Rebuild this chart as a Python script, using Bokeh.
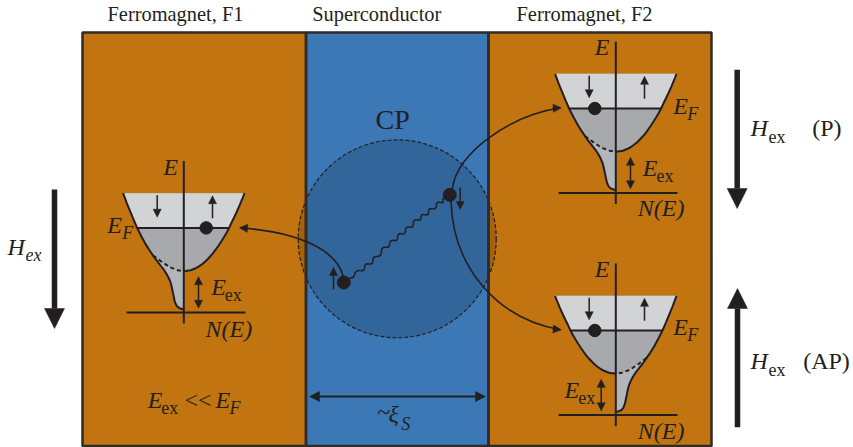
import numpy as np
from bokeh.core.properties import value
from bokeh.embed import file_html
from bokeh.models import Arrow, NormalHead, Range1d
from bokeh.plotting import figure
from bokeh.resources import INLINE

# panels of the device
panel_left = [82, 305.5, 488]
panel_right = [305.5, 488, 711]
panel_color = ["#c1740f", "#3b78b5", "#c1740f"]

# density of states, offset from the E axis and depth below band top
open_n = [60.7, 59.2, 57.5, 55.9, 54.1, 52.3, 50.4, 47.7, 45.3, 42.8, 40.1, 37.6, 35, 32.2, 29.2, 26.6, 23.8, 21.1, 18.2, 15.2, 11.9, 6.9, 0]
open_e = [0, 4, 8, 12, 16, 20, 24, 29.5, 34.7, 39.5, 44, 48, 52, 56, 60, 63, 66, 68.7, 71, 73.2, 75, 77, 78]
tail_n = [-60.7, -57, -53.3, -50, -46.7, -42.5, -38.3, -34.5, -30.7, -27, -23.3, -20, -17.3, -15, -13.3, -12, -11, -10, -9.3, -8.4, -7.3, -5.8, -4, -2, 0]
tail_e = [0, 10, 19, 27, 34.7, 43, 50.7, 56.8, 62.3, 67.5, 72.3, 76.5, 80.7, 85, 89, 94, 99, 103.5, 107.3, 110, 112.3, 114, 115, 115.8, 116]
dash_n = [-30.7, -23, -14, -6, 0]
dash_e = [62.3, 68, 74, 77, 78]
fermi_e = 34.7
base_e = 119.3

# F1, F2 (P), F2 (AP): axis position, band top, tail side, side of the dot
band_x = [183.3, 615.3, 615.3]
band_y = [192.7, 73.3, 295.3]
band_flip = [1, 1, -1]
dot_n = [22.4, -21, -21]
spin_n = [-26.6, 28.7]
eex_n = [14.7, 14.7, -14.6]

# Cooper pair
cp_x = 396.7
cp_y = 238.3
cp_r = 99
pair_x = [343.3, 449.3]
pair_y = [282, 194.3]
wave_x = [348.3, 360, 368.3, 376.7, 385, 393.3, 401, 409, 416.7, 424.3, 431.7, 440, 445]
wave_y = [277.7, 270, 263.5, 256, 246.7, 240, 233.3, 226.7, 219.3, 214.3, 208.3, 201.7, 198.3]

# tunnelling paths
arc_x0 = [343, 452, 450.5]
arc_y0 = [277, 188, 200]
arc_cx0 = [337, 456, 452]
arc_cy0 = [250, 152, 265]
arc_cx1 = [300, 510, 495]
arc_cy1 = [232, 115, 318]
arc_x1 = [240, 560, 560]
arc_y1 = [227.3, 107.3, 329.3]

# H_ex arrows: x, tail, tip
field_x = [54, 736.7, 737]
field_tail = [189, 69.3, 426.7]
field_tip = [328, 208, 288]

roman_text = ["Ferromagnet, F1", "Superconductor", "Ferromagnet, F2"]
roman_x = [107, 311.7, 516]
roman_y = [21, 21, 21]
misc_text = ["CP", "(P)", "(AP)", "<<", "~"]
misc_x = [375, 811.7, 802.7, 184, 376.7]
misc_y = [129.3, 137, 370, 409, 421.7]
misc_size = ["28px", "24px", "24px", "24px", "24px"]
ital_text = ["E", "E", "E", "N(E)", "E", "E", "E", "N(E)", "E", "E", "E", "N(E)", "H", "H", "H", "E", "E", "\u03be"]
ital_x = [162.7, 106.7, 210.7, 205, 594.3, 672.7, 642.3, 637.3, 594.3, 672.7, 564, 637.3, 7, 750, 750, 147.3, 215, 388]
ital_y = [176, 234.3, 296.7, 338, 56, 115, 177.3, 217.3, 278.3, 336, 399, 440, 256, 137, 370, 409.3, 409.3, 423]
sub_text = ["F", "F", "F", "ex", "F", "S"]
sub_x = [121.7, 686.7, 686.7, 25, 229, 400.7]
sub_y = [239.3, 120, 341, 261.7, 414, 430]
exsub_x = [224.3, 656, 577.7, 768, 768, 160.7]
exsub_y = [301.7, 182, 404, 143, 376, 414]

ink = "#231f20"
font = value("Liberation Serif")

p = figure(width=853, height=447, x_range=Range1d(0, 853), y_range=Range1d(447, 0),
           x_axis_type=None, y_axis_type=None, toolbar_location=None, output_backend="svg",
           min_border=0, outline_line_color=None)
p.xgrid.visible = False
p.ygrid.visible = False

p.quad(left=panel_left, right=panel_right, top=[32] * 3, bottom=[445.5] * 3,
       fill_color=panel_color, line_color=None)
p.circle([cp_x], [cp_y], radius=cp_r, fill_color="black", fill_alpha=0.15,
         line_color=ink, line_width=1.2, line_dash="4 2")
p.quad(left=panel_left, right=panel_right, top=[32] * 3, bottom=[445.5] * 3,
       fill_color=None, line_color="#2e2b2a", line_width=2.5)


def arrow(x0, y0, x1, y1, size, width, both=False):
    head = NormalHead(size=size, fill_color=ink, line_color=ink, line_width=0.5)
    tail = NormalHead(size=size, fill_color=ink, line_color=ink, line_width=0.5) if both else None
    p.add_layout(Arrow(end=head, start=tail, x_start=x0, y_start=y0, x_end=x1, y_end=y1,
                       line_color=ink, line_width=width))


# the three bands
fi = open_e.index(fermi_e)
ti = tail_e.index(fermi_e)
di = tail_e.index(dash_e[0])
for ax, top, flip, dn, en in zip(band_x, band_y, band_flip, dot_n, eex_n):
    ox = ax + flip * np.array(open_n)
    oy = top + np.array(open_e)
    tx = ax + flip * np.array(tail_n)
    ty = top + np.array(tail_e)
    dx = ax + flip * np.array(dash_n)
    dy = top + np.array(dash_e)
    p.patch(np.r_[tx, ox[::-1]], np.r_[ty, oy[::-1]], fill_color="#a7a9ac", line_color=None)
    p.patch(np.r_[tx[di:], dx[::-1]], np.r_[ty[di:], dy[::-1]], fill_color="#b2b5ba", line_color=None)
    p.patch(np.r_[tx[:ti + 1], ox[fi::-1]], np.r_[ty[:ti + 1], oy[fi::-1]], fill_color="#d1d3d4", line_color=None)
    p.line(ox, oy, line_color=ink, line_width=2)
    p.line(tx, ty, line_color=ink, line_width=2)
    p.line(dx, dy, line_color=ink, line_width=2, line_dash="4 3")
    p.line([tx[ti], ox[fi]], [top + fermi_e] * 2, line_color=ink, line_width=2)
    p.line([ax, ax], [top - 32.3, top + 130.3], line_color=ink, line_width=2)
    p.line([ax - 57.3, ax + 61.7], [top + base_e] * 2, line_color=ink, line_width=2)
    p.scatter([ax + dn], [top + fermi_e], size=12.5, color=ink)
    arrow(ax + spin_n[0], top + 2, ax + spin_n[0], top + 24, 8, 1.5)
    arrow(ax + spin_n[1], top + 25, ax + spin_n[1], top + 2.5, 8, 1.5)
    arrow(ax + en, top + 83.5, ax + en, top + 115, 8, 1.5, both=True)

# pair, wavy line and paths out of the superconductor
wx = np.array(wave_x)
wy = np.array(wave_y)
mx = (wx[:-1] + wx[1:]) / 2
my = (wy[:-1] + wy[1:]) / 2
nx = 0.64 * 3.2
ny = 0.77 * 3.2
p.quadratic(wx[:-1], wy[:-1], mx, my, (wx[:-1] + mx) / 2 + nx, (wy[:-1] + my) / 2 + ny, line_color=ink, line_width=1.6)
p.quadratic(mx, my, wx[1:], wy[1:], (mx + wx[1:]) / 2 - nx, (my + wy[1:]) / 2 - ny, line_color=ink, line_width=1.6)
p.bezier(arc_x0, arc_y0, arc_x1, arc_y1, arc_cx0, arc_cy0, arc_cx1, arc_cy1, line_color=ink, line_width=1.6)
p.scatter(pair_x, pair_y, size=13, color=ink)
arrow(333, 289, 333, 267, 8, 1.5)
arrow(459.7, 187, 459.7, 209, 8, 1.5)
arrow(249, 228, 239, 227.3, 8, 1)
arrow(552, 107.8, 560.7, 107.3, 8, 1)
arrow(552, 328.4, 560.7, 329.3, 8, 1)
arrow(309, 396, 485, 396, 10, 2, both=True)

for fx, ft, fh in zip(field_x, field_tail, field_tip):
    arrow(fx, ft, fx, fh, 20, 5.5)

# svg text sits lower than its alphabetic baseline here, hence the y_offset
p.text(roman_x, roman_y, text=roman_text, text_font=font, text_font_size="20.4px", y_offset=-8,
       text_color=ink, text_baseline="alphabetic")
p.text(misc_x, misc_y, text=misc_text, text_font=font, text_font_size=misc_size, y_offset=-10,
       text_color=ink, text_baseline="alphabetic")
p.text(ital_x, ital_y, text=ital_text, text_font=font, text_font_style="italic", text_font_size="24px", y_offset=-10,
       text_color=ink, text_baseline="alphabetic")
p.text(sub_x, sub_y, text=sub_text, text_font=font, text_font_style="italic", text_font_size="18px", y_offset=-7,
       text_color=ink, text_baseline="alphabetic")
p.text(exsub_x, exsub_y, text=["ex"] * 6, text_font=font, text_font_size="18px", y_offset=-7,
       text_color=ink, text_baseline="alphabetic")

open("out.html", "w").write(file_html(p, INLINE))
